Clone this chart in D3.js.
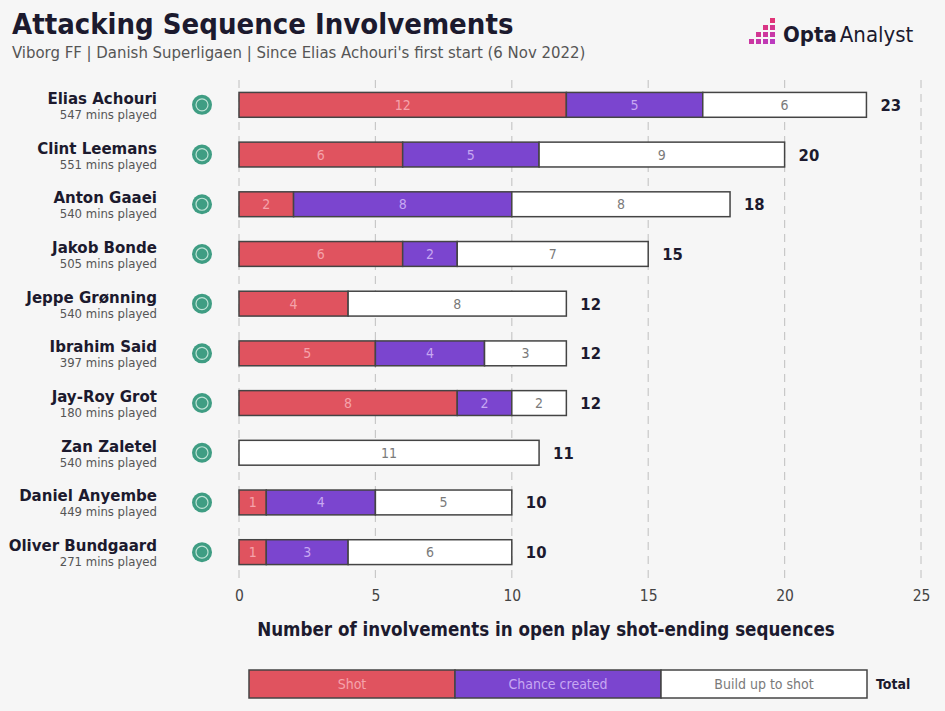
<!DOCTYPE html>
<html>
<head>
<meta charset="utf-8">
<script src="https://cdn.jsdelivr.net/npm/d3@7"></script>
<style>
  body { margin: 0; background: #f6f6f6; }
  text { font-family: "DejaVu Sans Condensed", "Roboto", sans-serif; }
</style>
</head>
<body>
<script>
var players = ["Elias Achouri", "Clint Leemans", "Anton Gaaei", "Jakob Bonde", "Jeppe Grønning",
               "Ibrahim Said", "Jay-Roy Grot", "Zan Zaletel", "Daniel Anyembe", "Oliver Bundgaard"];
var minutes = [547, 551, 540, 505, 540, 397, 180, 540, 449, 271];
var shots = [12, 6, 2, 6, 4, 5, 8, 0, 1, 1];
var chances = [5, 5, 8, 2, 0, 4, 2, 0, 4, 3];
var buildUp = [6, 9, 8, 7, 8, 3, 2, 11, 5, 6];
var seriesNames = ["Shot", "Chance created", "Build up to shot"];
var xTicks = [0, 5, 10, 15, 20, 25];

var W = 945, H = 711;
var colors = ["#e0535f", "#7b45cf", "#ffffff"];
var labelColors = ["#f5a3ab", "#c7a8f2", "#7a7a7a"];

var svg = d3.select("body").append("svg")
  .attr("width", W).attr("height", H);

svg.append("rect").attr("width", W).attr("height", H).attr("fill", "#f6f6f6");

// titles
svg.append("text").attr("x", 12).attr("y", 34)
  .attr("font-size", 29).attr("font-weight", "bold").attr("fill", "#1c1a2e")
  .text("Attacking Sequence Involvements");
svg.append("text").attr("x", 12).attr("y", 58)
  .attr("font-size", 16.6).attr("fill", "#555")
  .text("Viborg FF | Danish Superligaen | Since Elias Achouri's first start (6 Nov 2022)");

// logo
var logo = svg.append("g").attr("transform", "translate(749,18)");
var sq = [[3,0],[2,1],[3,1],[1,2],[2,2],[3,2],[0,3],[1,3],[2,3],[3,3]];
logo.selectAll("rect").data(sq).enter().append("rect")
  .attr("x", function(d){ return d[0] * 7; })
  .attr("y", function(d){ return d[1] * 7; })
  .attr("width", 5).attr("height", 5)
  .attr("fill", function(d){ return d3.interpolateRgb("#f0325a", "#b23bd0")(d[1] / 5 + d[0] / 12); });
logo.append("text").attr("x", 34).attr("y", 24).attr("font-size", 22).attr("fill", "#1c1a2e")
  .html('<tspan font-weight="bold">Opta</tspan><tspan dx="3" font-weight="normal">Analyst</tspan>');

var x = d3.scaleLinear().domain([0, 25]).range([239, 921]);
var y = d3.scaleBand().domain(players).range([80, 577]).paddingInner(0.5).paddingOuter(0.25);

// gridlines
svg.selectAll("line.grid").data(xTicks).enter().append("line")
  .attr("class", "grid")
  .attr("x1", function(d){ return x(d); }).attr("x2", function(d){ return x(d); })
  .attr("y1", 80).attr("y2", 582)
  .attr("stroke", "#c8c8c8").attr("stroke-width", 1.2).attr("stroke-dasharray", "8,6");

// x axis labels
var xAxis = svg.append("g").attr("transform", "translate(0,590)")
  .call(d3.axisBottom(x).tickValues(xTicks).tickSize(0).tickPadding(0));
xAxis.select(".domain").remove();
xAxis.selectAll("text").attr("font-size", 15.5).attr("fill", "#444")
  .style("font-family", "'DejaVu Sans Condensed', sans-serif");

svg.append("text").attr("x", 546).attr("y", 636).attr("text-anchor", "middle")
  .attr("font-size", 18.6).attr("font-weight", "bold").attr("fill", "#1c1a2e")
  .text("Number of involvements in open play shot-ending sequences");

var rows = players.map(function(p, i) {
  return { name: p, mins: minutes[i], vals: [shots[i], chances[i], buildUp[i]] };
});

var row = svg.selectAll("g.row").data(rows).enter().append("g").attr("class", "row");

row.append("text").attr("x", 157).attr("y", function(d){ return y(d.name) + y.bandwidth() / 2 - 1; })
  .attr("text-anchor", "end").attr("font-size", 16.7).attr("font-weight", "bold").attr("fill", "#1c1a2e")
  .text(function(d){ return d.name; });
row.append("text").attr("x", 157).attr("y", function(d){ return y(d.name) + y.bandwidth() / 2 + 14; })
  .attr("text-anchor", "end").attr("font-size", 13).attr("fill", "#555")
  .text(function(d){ return d.mins + " mins played"; });

// crest
row.append("circle").attr("cx", 202).attr("cy", function(d){ return y(d.name) + y.bandwidth() / 2; })
  .attr("r", 10).attr("fill", "#3f9d83");
row.append("circle").attr("cx", 202).attr("cy", function(d){ return y(d.name) + y.bandwidth() / 2; })
  .attr("r", 6).attr("fill", "none").attr("stroke", "#bfe3d6").attr("stroke-width", 1.2);

// stacked segments
row.each(function(d) {
  var g = d3.select(this);
  var start = 0;
  var segs = d.vals.map(function(v, k) {
    var s = { k: k, v: v, x0: start, x1: start + v };
    start += v;
    return s;
  }).filter(function(s){ return s.v > 0; });
  g.selectAll("rect").data(segs).enter().append("rect")
    .attr("x", function(s){ return x(s.x0); })
    .attr("width", function(s){ return x(s.x1) - x(s.x0); })
    .attr("y", y(d.name)).attr("height", y.bandwidth())
    .attr("fill", function(s){ return colors[s.k]; })
    .attr("stroke", "#444").attr("stroke-width", 1.5);
  g.selectAll("text.seg").data(segs).enter().append("text").attr("class", "seg")
    .attr("x", function(s){ return (x(s.x0) + x(s.x1)) / 2; })
    .attr("y", y(d.name) + y.bandwidth() / 2 + 5)
    .attr("text-anchor", "middle").attr("font-size", 14)
    .attr("fill", function(s){ return labelColors[s.k]; })
    .text(function(s){ return s.v; });
  g.append("text").attr("x", x(start) + 14).attr("y", y(d.name) + y.bandwidth() / 2 + 6)
    .attr("font-size", 16.5).attr("font-weight", "bold").attr("fill", "#1c1a2e")
    .text(start);
});

// legend
var lx = d3.scaleBand().domain(seriesNames).range([249, 867]);
var leg = svg.append("g");
leg.selectAll("rect").data(seriesNames).enter().append("rect")
  .attr("x", function(d){ return lx(d); }).attr("y", 670)
  .attr("width", lx.bandwidth()).attr("height", 28)
  .attr("fill", function(d, i){ return colors[i]; })
  .attr("stroke", "#444").attr("stroke-width", 1.5);
leg.selectAll("text").data(seriesNames).enter().append("text")
  .attr("x", function(d){ return lx(d) + lx.bandwidth() / 2; }).attr("y", 689)
  .attr("text-anchor", "middle").attr("font-size", 14)
  .attr("fill", function(d, i){ return labelColors[i]; })
  .text(function(d){ return d; });
svg.append("text").attr("x", 876).attr("y", 689).attr("font-size", 14)
  .attr("font-weight", "bold").attr("fill", "#1c1a2e").text("Total");
</script>
</body>
</html>
